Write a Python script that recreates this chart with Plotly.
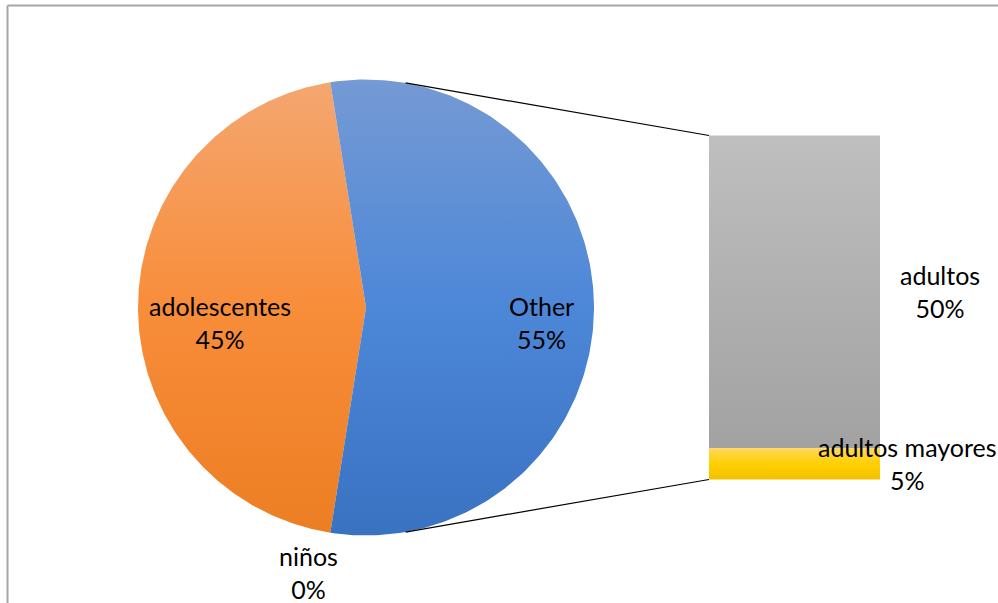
import numpy as np
import plotly.graph_objects as go

# Main pie: the "Other" slice is broken out into the stacked bar on the right
pie_labels = ["adolescentes", "niños"]
pie_values = [45, 0]
other_label = "Other"
# Breakdown of "Other", top to bottom
bar_labels = ["adultos", "adultos mayores"]
bar_values = [50, 5]

other_value = sum(bar_values)
total = sum(pie_values) + other_value

# ---- geometry (pie radius = 1 data unit, pie centred at the origin) ----
PX = 228.0                      # pixels per data unit
CX, CY = 366.0, 307.5           # pie centre in the page
W, H = 998, 603
BAR_X0, BAR_X1 = (709 - CX) / PX, (880 - CX) / PX
BAR_H = 344 / PX                # height of the full bar (= value of Other)
BAR_TOP = BAR_H / 2
BAR_UNIT = BAR_H / other_value  # data units per percentage point
CONNECT_DEG = 80                # where the connectors leave the pie

# gradient colours (bottom, middle, top)
SLICE_COLORS = {
    "adolescentes": ["#ec7e22", "#f88d3a", "#f4a771"],
    "niños": ["#8c8c8c", "#a5a5a5", "#c0c0c0"],
    "Other": ["#3a72c2", "#4d87d8", "#759ad4"],
}
BAR_COLORS = [["#a2a2a2", "#b0b0b0", "#bfbfbf"],
              ["#f2c100", "#ffd000", "#ffd75a"]]
LABEL_R = {"adolescentes": 0.64, "Other": 0.77}
LABEL_DY = -0.066
OUT_R, OUT_NUDGE = 1.19, -3.2
BAR_LABEL_X = [(940 - CX) / PX, (907 - CX) / PX]
FONT = dict(family="Lato, Carlito, Calibri, sans-serif", size=25, color="#000000")


def grad(cols, y0, y1):
    return dict(type="vertical", start=y0, stop=y1,
                colorscale=[[0, cols[0]], [0.5, cols[1]], [1, cols[2]]])


def wedge(a0, a1, n=240):
    t = np.radians(np.linspace(a0, a1, n))
    return (np.concatenate([[0], np.cos(t), [0]]),
            np.concatenate([[0], np.sin(t), [0]]))


fig = go.Figure()
annotations = []

# slices: "Other" is centred facing the bar, the rest run counter-clockwise
other_deg = other_value / total * 360
start = other_deg / 2
angles = {}
for name, v in zip(pie_labels, pie_values):
    span = v / total * 360
    angles[name] = (start, start + span)
    start += span
angles[other_label] = (start, start + other_deg)

values = dict(zip(pie_labels, pie_values))
values[other_label] = other_value

for name, (a0, a1) in angles.items():
    if a1 - a0 <= 0:
        continue
    xs, ys = wedge(a0, a1)
    fig.add_trace(go.Scatter(
        x=xs, y=ys, mode="lines", line=dict(width=0), fill="toself",
        fillgradient=grad(SLICE_COLORS[name], -1, 1), hoverinfo="skip"))

for name, (a0, a1) in angles.items():
    text = f"{name}<br>{values[name]}%"
    mid = np.radians((a0 + a1) / 2)
    if a1 - a0 > 0:
        r = LABEL_R[name]
        lx, ly = r * np.cos(mid), r * np.sin(mid) + LABEL_DY
    else:
        ang = np.radians(a0 + OUT_NUDGE)
        lx, ly = OUT_R * np.cos(ang), OUT_R * np.sin(ang)
    annotations.append(dict(x=lx, y=ly, text=text, showarrow=False,
                            font=FONT, xanchor="center", yanchor="middle"))

# stacked bar for the breakdown of "Other"
top = BAR_TOP
for i, (name, v) in enumerate(zip(bar_labels, bar_values)):
    bottom = top - v * BAR_UNIT
    fig.add_trace(go.Scatter(
        x=[BAR_X0, BAR_X1, BAR_X1, BAR_X0, BAR_X0],
        y=[top, top, bottom, bottom, top],
        mode="lines", line=dict(width=0), fill="toself",
        fillgradient=grad(BAR_COLORS[i], bottom, top), hoverinfo="skip"))
    annotations.append(dict(x=BAR_LABEL_X[i], y=(top + bottom) / 2,
                            text=f"{name}<br>{v}%", showarrow=False,
                            font=FONT, xanchor="center", yanchor="middle"))
    top = bottom
BAR_BOTTOM = top

# connector lines from the pie to the bar
ca = np.radians(CONNECT_DEG)
for sgn, yb in ((1, BAR_TOP), (-1, BAR_BOTTOM)):
    fig.add_trace(go.Scatter(
        x=[np.cos(ca), BAR_X0], y=[sgn * np.sin(ca), yb],
        mode="lines", line=dict(color="#000000", width=1.2),
        hoverinfo="skip"))

# chart-area frame (top and left edges visible)
frame = dict(type="line", xref="paper", yref="paper",
             line=dict(color="#a6a6a6", width=2))
shapes = [
    dict(frame, x0=7.5 / W, x1=1.02, y0=1 - 5.5 / H, y1=1 - 5.5 / H),
    dict(frame, x0=7.5 / W, x1=7.5 / W, y0=1 - 5.5 / H, y1=-0.02),
]

fig.update_layout(
    width=W, height=H, margin=dict(l=0, r=0, t=0, b=0),
    paper_bgcolor="white", plot_bgcolor="white", showlegend=False,
    xaxis=dict(range=[-CX / PX, (W - CX) / PX], visible=False, fixedrange=True),
    yaxis=dict(range=[(CY - H) / PX, CY / PX], visible=False, fixedrange=True),
    annotations=annotations, shapes=shapes,
)

fig.write_html("out.html")
